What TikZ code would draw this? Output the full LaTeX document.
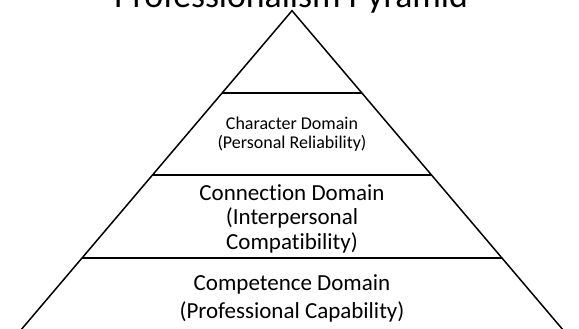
\documentclass[tikz,border=0pt]{standalone}
\usepackage{fontspec}
\setmainfont[Ligatures=NoCommon]{Carlito}
\begin{document}
\begin{tikzpicture}[x=1pt, y=-1pt]
                \tikzset{
                    side/.style={line width=1.5pt},
                    tier/.style={line width=2.2pt},
                    domaintext/.style={align=center, inner sep=0pt},
                }
                % Frame:
                \useasboundingbox (0,0) rectangle (579,329);
                \clip (0,0) rectangle (579,329);

                % Pyramid:
                \coordinate (apex) at (292,10.7);
                \coordinate (baseL) at (12.4,340);
                \coordinate (baseR) at (571.6,340);
                \draw[side] (baseL) -- (apex) -- (baseR);
                \foreach \y/\w [count=\i] in {92.7/69.6, 175/139.5, 257.7/209.7} {
                    \coordinate (t\i L) at (292-\w,\y);
                    \coordinate (t\i R) at (292+\w,\y);
                    \draw[tier] (t\i L) -- (t\i R);
                }

                % Texts:
                \node[anchor=base, inner sep=0pt, font=\fontsize{35.7}{40}\selectfont] (title) at (291,8) {Professionalism Pyramid};
                \node[domaintext, font=\fontsize{18}{19.5}\selectfont] (character) at (292,134) {Character Domain\\(Personal Reliability)};
                \node[domaintext, font=\fontsize{23}{24.5}\selectfont] (connection) at (292,218.8) {Connection Domain\\(Interpersonal\\Compatibility)};
                \node[domaintext, font=\fontsize{23}{28}\selectfont] (competence) at (292,298.4) {Competence Domain\\(Professional Capability)};
            \end{tikzpicture}
\end{document}
